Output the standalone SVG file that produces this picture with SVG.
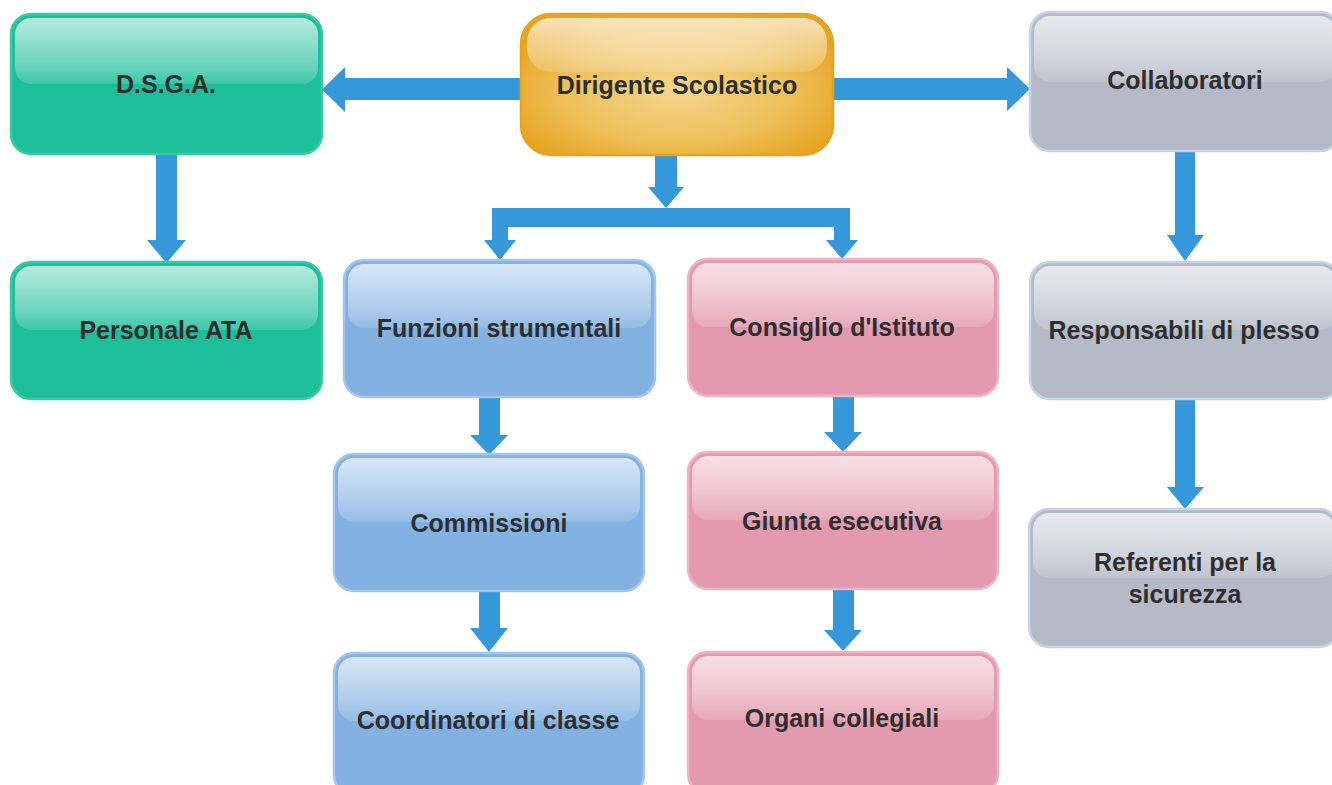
<svg xmlns="http://www.w3.org/2000/svg" width="1332" height="785" viewBox="0 0 1332 785">
<defs>
<linearGradient id="gloss" x1="0" y1="0" x2="0" y2="1">
<stop offset="0" stop-color="#fff" stop-opacity="0.68"/>
<stop offset="0.7" stop-color="#fff" stop-opacity="0.35"/>
<stop offset="1" stop-color="#fff" stop-opacity="0.14"/>
</linearGradient>
<radialGradient id="orangeFill" cx="0.5" cy="0.55" r="0.6">
<stop offset="0" stop-color="#F3D58C"/>
<stop offset="0.6" stop-color="#EEC05A"/>
<stop offset="1" stop-color="#E7A421"/>
</radialGradient>
</defs>
<style>
.box{stroke-width:2.5}
.teal{fill:#1DBE9A;stroke:#3ACAA8}
.orange{fill:url(#orangeFill);stroke:#E8A31C}
.gray{fill:#B4BAC7;stroke:#C7D4E6}
.blue{fill:#82B1E2;stroke:#A3C6EE}
.pink{fill:#E49AAE;stroke:#F0B3C3}
.gl{fill:url(#gloss)}
.lbl{font-family:"Liberation Sans",Arial,sans-serif;font-weight:bold;font-size:25px;fill:#2e2e2e;text-anchor:middle}
.arr{fill:#3598DB}
</style>
<rect width="1332" height="785" fill="#ffffff"/>

<g id="connectors">
<polygon class="arr" points="521,78 345,78 345,67 322,89.5 345,112 345,100 521,100"/>
<polygon class="arr" points="833,78 1007,78 1007,67 1030,89 1007,111 1007,100 833,100"/>
<polygon class="arr" points="655,154 677,154 677,187 684,187 666,208 648,187 655,187"/>
<polygon class="arr" points="492,208 850,208 850,240 858,240 842,259 826,240 834,240 834,227 508,227 508,240 516,240 500,260 484,240 492,240"/>
<polygon class="arr" points="156,153 177,153 177,240 186,240 166.5,263 147,240 156,240"/>
<polygon class="arr" points="1175,150 1195,150 1195,235 1204,235 1185,261 1167,235 1175,235"/>
<polygon class="arr" points="1175,398 1195,398 1195,487 1204,487 1185,509 1167,487 1175,487"/>
<polygon class="arr" points="479,396 500,396 500,435 508,435 489,455 470,435 479,435"/>
<polygon class="arr" points="479,590 500,590 500,628 508,628 489,652 470,628 479,628"/>
<polygon class="arr" points="833,395 854,395 854,432 862,432 843,452 824,432 833,432"/>
<polygon class="arr" points="833,588 854,588 854,630 862,630 843,651 824,630 833,630"/>
</g>

<g id="dsga">
<rect class="box teal" x="11" y="14" width="311" height="140" rx="20"/>
<rect class="gl" x="15" y="18" width="303" height="66" rx="16"/>
<text class="lbl" x="166" y="93">D.S.G.A.</text>
</g>
<g id="personale-ata">
<rect class="box teal" x="11" y="262" width="311" height="137" rx="20"/>
<rect class="gl" x="15" y="266" width="303" height="64" rx="16"/>
<text class="lbl" x="166" y="339">Personale ATA</text>
</g>
<g id="dirigente">
<rect class="box orange" x="521" y="14" width="312" height="141" rx="30"/>
<rect class="gl" x="527" y="18" width="300" height="54" rx="24"/>
<text class="lbl" x="677" y="94">Dirigente Scolastico</text>
</g>
<g id="collaboratori">
<rect class="box gray" x="1030" y="12" width="310" height="139" rx="20"/>
<rect class="gl" x="1034" y="16" width="302" height="66" rx="16"/>
<text class="lbl" x="1185" y="89">Collaboratori</text>
</g>
<g id="responsabili">
<rect class="box gray" x="1030" y="262" width="310" height="137" rx="20"/>
<rect class="gl" x="1034" y="266" width="302" height="64" rx="16"/>
<text class="lbl" x="1184" y="339">Responsabili di plesso</text>
</g>
<g id="referenti">
<rect class="box gray" x="1029" y="509" width="310" height="138" rx="20"/>
<rect class="gl" x="1033" y="513" width="302" height="65" rx="16"/>
<text class="lbl" x="1185" y="571">Referenti per la</text>
<text class="lbl" x="1185" y="603">sicurezza</text>
</g>
<g id="funzioni">
<rect class="box blue" x="344" y="260" width="311" height="137" rx="20"/>
<rect class="gl" x="348" y="264" width="303" height="64" rx="16"/>
<text class="lbl" x="499" y="337">Funzioni strumentali</text>
</g>
<g id="consiglio">
<rect class="box pink" x="688" y="259" width="310" height="137" rx="20"/>
<rect class="gl" x="692" y="263" width="302" height="64" rx="16"/>
<text class="lbl" x="842" y="336">Consiglio d'Istituto</text>
</g>
<g id="commissioni">
<rect class="box blue" x="334" y="454" width="310" height="137" rx="20"/>
<rect class="gl" x="338" y="458" width="302" height="64" rx="16"/>
<text class="lbl" x="489" y="532">Commissioni</text>
</g>
<g id="giunta">
<rect class="box pink" x="688" y="452" width="310" height="137" rx="20"/>
<rect class="gl" x="692" y="456" width="302" height="64" rx="16"/>
<text class="lbl" x="842" y="530">Giunta esecutiva</text>
</g>
<g id="coordinatori">
<rect class="box blue" x="334" y="653" width="310" height="142" rx="20"/>
<rect class="gl" x="338" y="657" width="302" height="64" rx="16"/>
<text class="lbl" x="488" y="729">Coordinatori di classe</text>
</g>
<g id="organi">
<rect class="box pink" x="688" y="652" width="310" height="142" rx="20"/>
<rect class="gl" x="692" y="656" width="302" height="64" rx="16"/>
<text class="lbl" x="842" y="727">Organi collegiali</text>
</g>
</svg>
